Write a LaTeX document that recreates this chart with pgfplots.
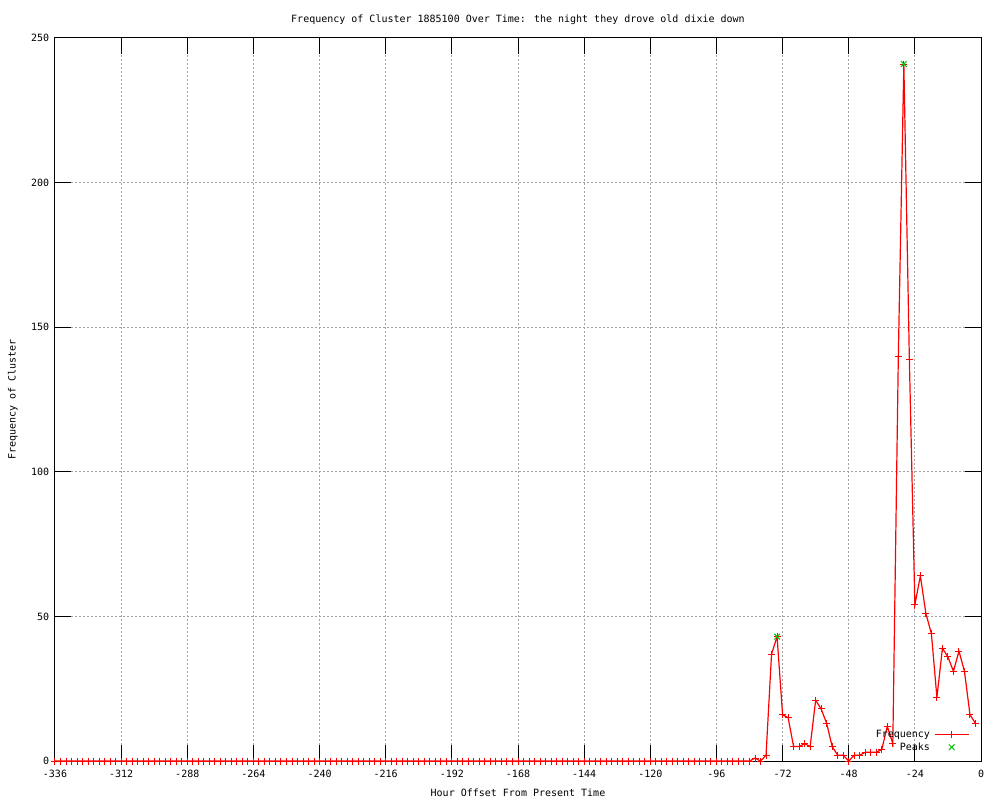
\documentclass[border=0pt]{standalone}
\usepackage{fontspec}
\setmainfont{DejaVu Sans Mono}
\usepackage{pgfplots}
\pgfplotsset{compat=1.18}
\definecolor{gpred}{RGB}{255,0,0}
\definecolor{gpgreen}{RGB}{0,192,0}
\definecolor{gpgrid}{RGB}{160,160,160}
\begin{document}
\fontsize{5pt}{6pt}\selectfont
\begin{tikzpicture}
\path[use as bounding box] (-27.5pt,-19.5pt) rectangle (472.5pt,380.5pt);
\begin{axis}[
  at={(0,0)}, anchor=south west,
  scale only axis, width=463pt, height=361.5pt,
  xmin=-336, xmax=0, ymin=0, ymax=250,
  xtick={-336,-312,...,0}, ytick={0,50,...,250},
  tick align=inside, major tick length=8pt,
  xtick pos=both, ytick pos=both,
  axis line style={line width=0.5pt},
  every tick/.style={black, line width=0.5pt},
  grid=major,
  major grid style={gpgrid, line width=0.5pt, dash pattern=on 1pt off 1pt},
  /pgf/number format/assume math mode=true,
  ticklabel style={font=\fontsize{5pt}{6pt}\selectfont},
  xticklabel style={yshift=-2.5pt},
  yticklabel style={xshift=-1pt},
  title={Frequency of Cluster 1885100 Over Time: the night they drove old dixie down},
  title style={font=\fontsize{5pt}{6pt}\selectfont, yshift=-1pt},
  xlabel={Hour Offset From Present Time},
  ylabel={Frequency of Cluster},
  label style={font=\fontsize{5pt}{6pt}\selectfont},
  xlabel style={at={(axis description cs:0.5,0)}, anchor=center, yshift=-16pt},
  ylabel style={at={(axis description cs:-0.0454,0.5)}, anchor=center},
  clip=false,
  legend plot pos=right,
  legend cell align=right,
  legend style={draw=none, fill=none, at={(0.99,0.004)}, anchor=south east,
    font=\fontsize{5pt}{6pt}\selectfont, row sep=-2pt, inner sep=1pt},
]
\addplot[gpred, line width=0.6pt, mark=+, mark size=1.75pt, mark options={line width=0.5pt}] coordinates {
(-336,0) (-334,0) (-332,0) (-330,0) (-328,0) (-326,0) (-324,0) (-322,0) (-320,0) (-318,0)
(-316,0) (-314,0) (-312,0) (-310,0) (-308,0) (-306,0) (-304,0) (-302,0) (-300,0) (-298,0)
(-296,0) (-294,0) (-292,0) (-290,0) (-288,0) (-286,0) (-284,0) (-282,0) (-280,0) (-278,0)
(-276,0) (-274,0) (-272,0) (-270,0) (-268,0) (-266,0) (-264,0) (-262,0) (-260,0) (-258,0)
(-256,0) (-254,0) (-252,0) (-250,0) (-248,0) (-246,0) (-244,0) (-242,0) (-240,0) (-238,0)
(-236,0) (-234,0) (-232,0) (-230,0) (-228,0) (-226,0) (-224,0) (-222,0) (-220,0) (-218,0)
(-216,0) (-214,0) (-212,0) (-210,0) (-208,0) (-206,0) (-204,0) (-202,0) (-200,0) (-198,0)
(-196,0) (-194,0) (-192,0) (-190,0) (-188,0) (-186,0) (-184,0) (-182,0) (-180,0) (-178,0)
(-176,0) (-174,0) (-172,0) (-170,0) (-168,0) (-166,0) (-164,0) (-162,0) (-160,0) (-158,0)
(-156,0) (-154,0) (-152,0) (-150,0) (-148,0) (-146,0) (-144,0) (-142,0) (-140,0) (-138,0)
(-136,0) (-134,0) (-132,0) (-130,0) (-128,0) (-126,0) (-124,0) (-122,0) (-120,0) (-118,0)
(-116,0) (-114,0) (-112,0) (-110,0) (-108,0) (-106,0) (-104,0) (-102,0) (-100,0) (-98,0)
(-96,0) (-94,0) (-92,0) (-90,0) (-88,0) (-86,0) (-84,0) (-82,1) (-80,0) (-78,2)
(-76,37) (-74,43) (-72,16) (-70,15) (-68,5) (-66,5) (-64,6) (-62,5) (-60,21) (-58,18)
(-56,13) (-54,5) (-52,2) (-50,2) (-48,0) (-46,2) (-44,2) (-42,3) (-40,3) (-38,3)
(-36,4) (-34,12) (-32,6) (-30,140) (-28,241) (-26,139) (-24,54) (-22,64) (-20,51) (-18,44)
(-16,22) (-14,39) (-12,36) (-10,31) (-8,38) (-6,31) (-4,16) (-2,13)
};
\addlegendentry{Frequency}
\addplot[only marks, gpgreen, mark=x, mark size=2pt, mark options={line width=0.5pt}] coordinates {
(-74,43) (-28,241)
};
\addlegendentry{Peaks}
\end{axis}
\end{tikzpicture}
\end{document}
